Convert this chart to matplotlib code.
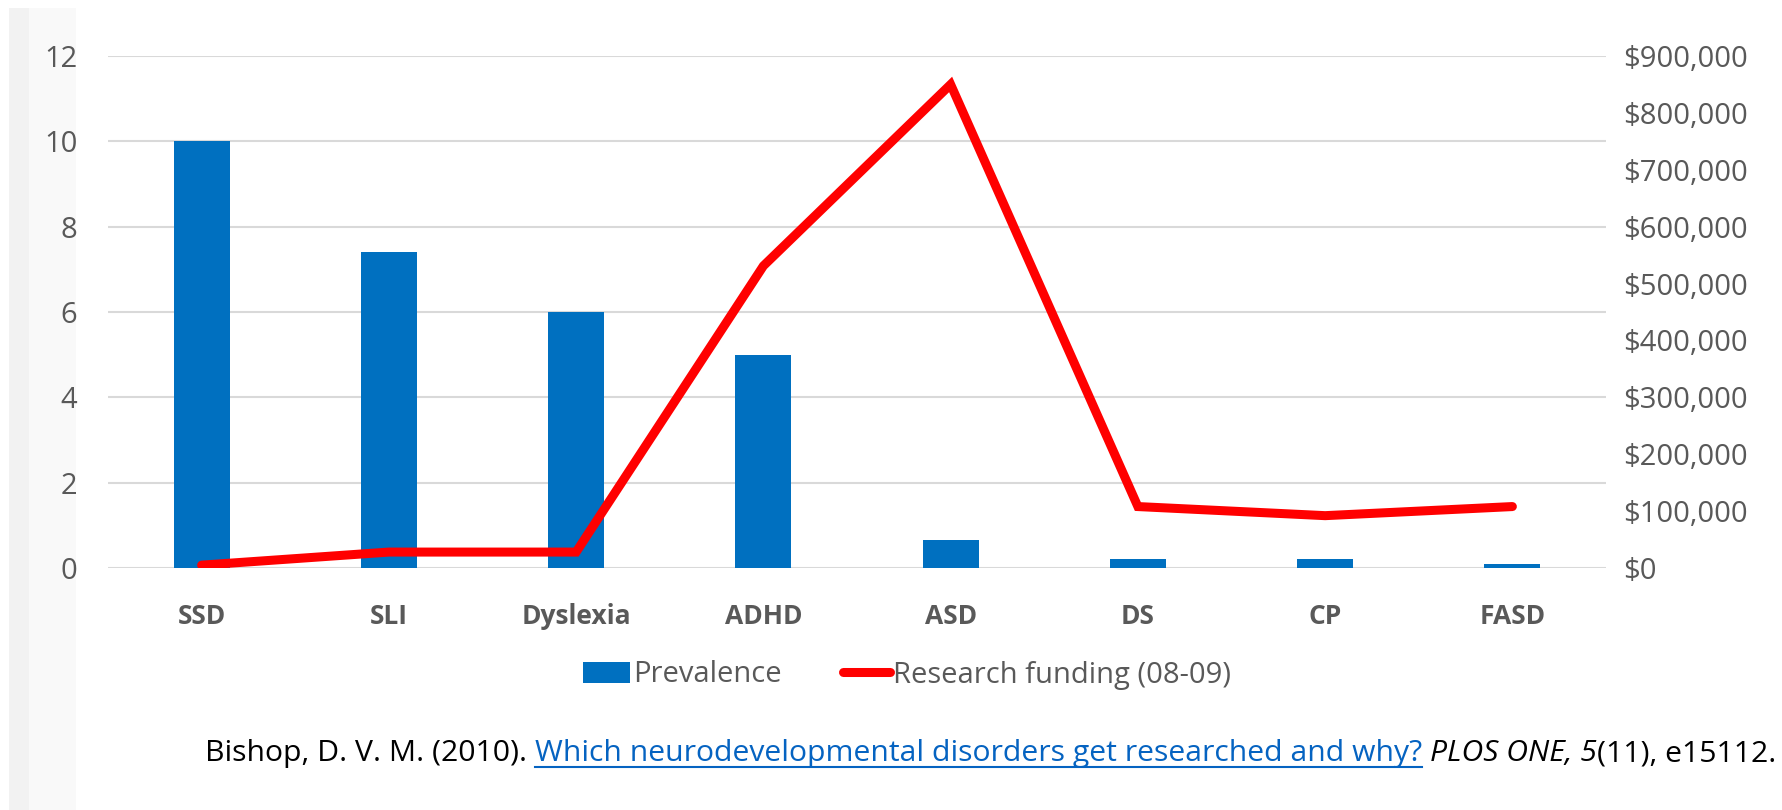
import matplotlib
matplotlib.use('Agg')
import matplotlib.pyplot as plt
from matplotlib.patches import Rectangle, Patch
from matplotlib.lines import Line2D
from matplotlib.ticker import FuncFormatter

# Datos ---------------------------------------------------------------------
categorias = ['SSD', 'SLI', 'Dyslexia', 'ADHD', 'ASD', 'DS', 'CP', 'FASD']
prevalencia = [10.0, 7.4, 6.0, 5.0, 0.65, 0.2, 0.2, 0.1]
financiacion = [5000, 28000, 28000, 531000, 850000, 108000, 92000, 108000]

AZUL = '#0070c0'
ROJO = '#ff0000'
GRIS_TXT = '#595959'
FUENTE = ['Open Sans', 'DejaVu Sans']

plt.rcParams['font.family'] = FUENTE

fig = plt.figure(figsize=(17.82, 8.1), dpi=100)

# franja gris a la izquierda (detras de todo)
fig.patches.append(Rectangle((9 / 1782, 0), 20 / 1782, 1 - 8 / 810, transform=fig.transFigure,
                             facecolor='#f2f2f2', edgecolor='none', zorder=-5))
fig.patches.append(Rectangle((29 / 1782, 0), 47 / 1782, 1 - 8 / 810, transform=fig.transFigure,
                             facecolor='#f9f9f9', edgecolor='none', zorder=-5))

ax = fig.add_axes([108 / 1782, 1 - 568 / 810, (1606 - 108) / 1782, (568 - 56) / 810])
ax.set_facecolor('none')
x = list(range(len(categorias)))

# barras de prevalencia
ax.bar(x, prevalencia, width=0.3, color=AZUL, zorder=2)
ax.set_ylim(0, 12)
ax.set_xlim(-0.5, len(categorias) - 0.5)
ax.set_yticks(range(0, 13, 2))
ax.yaxis.grid(True, color='#d9d9d9', linewidth=1.5, zorder=0)
ax.set_axisbelow(True)
for s in ax.spines.values():
    s.set_visible(False)
ax.set_xticks(x)
ax.set_xticklabels(categorias, fontsize=19, fontweight='bold', color=GRIS_TXT)

# linea de financiacion en eje derecho
ax2 = ax.twinx()
ax2.plot(x, financiacion, color=ROJO, linewidth=6.5, solid_capstyle='round',
         solid_joinstyle='miter', zorder=3)
ax2.set_ylim(0, 900000)
ax2.set_yticks(range(0, 900001, 100000))
ax2.yaxis.set_major_formatter(FuncFormatter(lambda v, p: f'${v:,.0f}'))
for s in ax2.spines.values():
    s.set_visible(False)
ax2.tick_params(axis='y', length=0, pad=12, labelsize=21, labelcolor=GRIS_TXT)

ax.tick_params(axis='y', length=0, pad=22, labelsize=21, labelcolor=GRIS_TXT,
               left=False, labelleft=True)
ax.tick_params(axis='x', length=0, pad=25)

# leyenda
handles = [Patch(facecolor=AZUL, edgecolor='none'),
           Line2D([0], [0], color=ROJO, linewidth=6.5, solid_capstyle='round')]
fig.legend(handles, ['Prevalence', 'Research funding (08-09)'], loc='center',
           bbox_to_anchor=(907 / 1782, 1 - 675 / 810), ncol=2, frameon=False,
           fontsize=21, labelcolor=GRIS_TXT, handlelength=1.6, handletextpad=0.1,
           columnspacing=2.1)

# cita al pie, armada por partes
partes = [
    ('Bishop, D. V. M. (2010). ', 'black', 'normal', False),
    ('Which neurodevelopmental disorders get researched and why?', '#0563c1', 'normal', True),
    (' ', 'black', 'normal', False),
    ('PLOS ONE, 5', 'black', 'italic', False),
    ('(11), e15112.', 'black', 'normal', False),
]
fig.canvas.draw()
renderer = fig.canvas.get_renderer()
xpos = 205
ybase = 810 - 761
for texto, color, estilo, subrayado in partes:
    t = fig.text(xpos / 1782, ybase / 810, texto, fontsize=21.7, color=color, style=estilo,
                 va='baseline', ha='left')
    bb = t.get_window_extent(renderer)
    if subrayado:
        fig.add_artist(Line2D([bb.x0 / 1782, bb.x1 / 1782], [(ybase - 6) / 810] * 2,
                              transform=fig.transFigure, color=color, linewidth=1.5))
    xpos = bb.x1

plt.savefig('out.png', dpi=100)
